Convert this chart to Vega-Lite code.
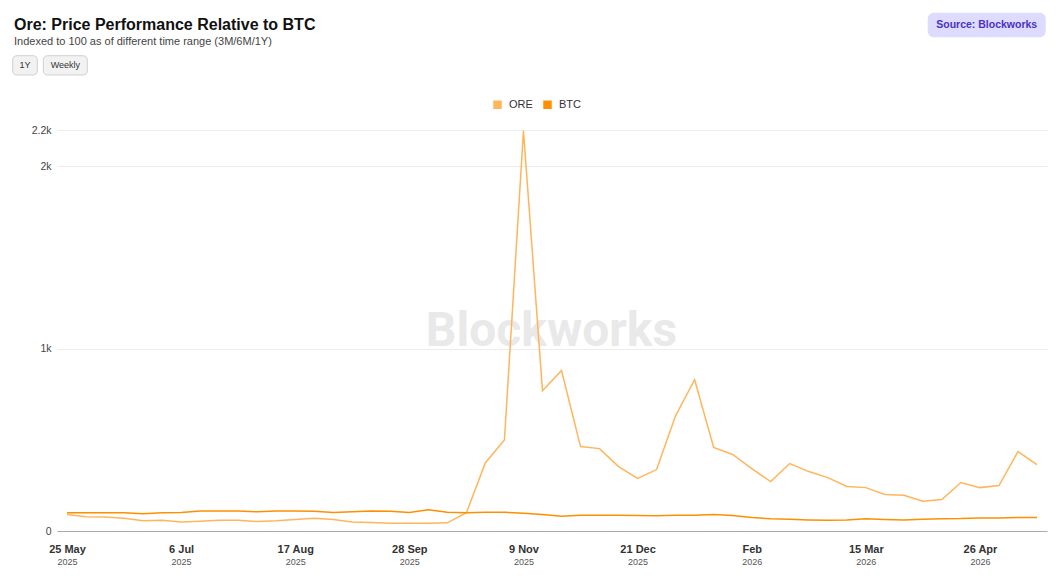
{
  "$schema": "https://vega.github.io/schema/vega-lite/v6.json",
  "width": 990,
  "height": 401,
  "autosize": {"type": "none"},
  "padding": {"left": 57, "top": 130, "right": 13, "bottom": 52},
  "background": "white",
  "config": {"font": "Liberation Sans", "view": {"stroke": null}},
  "title": {
    "text": "Ore: Price Performance Relative to BTC",
    "subtitle": "Indexed to 100 as of different time range (3M/6M/1Y)",
    "anchor": "start",
    "frame": "group",
    "dx": -43,
    "dy": 38,
    "fontSize": 16,
    "fontWeight": "bold",
    "color": "#111111",
    "subtitleFontSize": 11,
    "subtitleColor": "#444444",
    "subtitlePadding": 3,
    "font": "Liberation Sans",
    "subtitleFont": "Liberation Sans"
  },
  "data": {
    "values": [
      {"date": "2025-05-25", "series": "ORE", "value": 90},
      {"date": "2025-06-01", "series": "ORE", "value": 78},
      {"date": "2025-06-08", "series": "ORE", "value": 77},
      {"date": "2025-06-15", "series": "ORE", "value": 70},
      {"date": "2025-06-22", "series": "ORE", "value": 56},
      {"date": "2025-06-29", "series": "ORE", "value": 59},
      {"date": "2025-07-06", "series": "ORE", "value": 50},
      {"date": "2025-07-13", "series": "ORE", "value": 54},
      {"date": "2025-07-20", "series": "ORE", "value": 59},
      {"date": "2025-07-27", "series": "ORE", "value": 59},
      {"date": "2025-08-03", "series": "ORE", "value": 52},
      {"date": "2025-08-10", "series": "ORE", "value": 56},
      {"date": "2025-08-17", "series": "ORE", "value": 63},
      {"date": "2025-08-24", "series": "ORE", "value": 70},
      {"date": "2025-08-31", "series": "ORE", "value": 63},
      {"date": "2025-09-07", "series": "ORE", "value": 50},
      {"date": "2025-09-14", "series": "ORE", "value": 46},
      {"date": "2025-09-21", "series": "ORE", "value": 43},
      {"date": "2025-09-28", "series": "ORE", "value": 43},
      {"date": "2025-10-05", "series": "ORE", "value": 43},
      {"date": "2025-10-12", "series": "ORE", "value": 45},
      {"date": "2025-10-19", "series": "ORE", "value": 100},
      {"date": "2025-10-26", "series": "ORE", "value": 375},
      {"date": "2025-11-02", "series": "ORE", "value": 500},
      {"date": "2025-11-09", "series": "ORE", "value": 2195},
      {"date": "2025-11-16", "series": "ORE", "value": 770},
      {"date": "2025-11-23", "series": "ORE", "value": 880},
      {"date": "2025-11-30", "series": "ORE", "value": 463},
      {"date": "2025-12-07", "series": "ORE", "value": 452},
      {"date": "2025-12-14", "series": "ORE", "value": 353},
      {"date": "2025-12-21", "series": "ORE", "value": 288},
      {"date": "2025-12-28", "series": "ORE", "value": 337},
      {"date": "2026-01-04", "series": "ORE", "value": 633},
      {"date": "2026-01-11", "series": "ORE", "value": 830},
      {"date": "2026-01-18", "series": "ORE", "value": 458},
      {"date": "2026-01-25", "series": "ORE", "value": 420},
      {"date": "2026-02-01", "series": "ORE", "value": 342},
      {"date": "2026-02-08", "series": "ORE", "value": 271},
      {"date": "2026-02-15", "series": "ORE", "value": 370},
      {"date": "2026-02-22", "series": "ORE", "value": 326},
      {"date": "2026-03-01", "series": "ORE", "value": 293},
      {"date": "2026-03-08", "series": "ORE", "value": 244},
      {"date": "2026-03-15", "series": "ORE", "value": 238},
      {"date": "2026-03-22", "series": "ORE", "value": 200},
      {"date": "2026-03-29", "series": "ORE", "value": 196},
      {"date": "2026-04-05", "series": "ORE", "value": 163},
      {"date": "2026-04-12", "series": "ORE", "value": 173},
      {"date": "2026-04-19", "series": "ORE", "value": 266},
      {"date": "2026-04-26", "series": "ORE", "value": 238},
      {"date": "2026-05-03", "series": "ORE", "value": 249},
      {"date": "2026-05-10", "series": "ORE", "value": 436},
      {"date": "2026-05-17", "series": "ORE", "value": 364},
      {"date": "2025-05-25", "series": "BTC", "value": 100},
      {"date": "2025-06-01", "series": "BTC", "value": 100},
      {"date": "2025-06-08", "series": "BTC", "value": 100},
      {"date": "2025-06-15", "series": "BTC", "value": 100},
      {"date": "2025-06-22", "series": "BTC", "value": 94},
      {"date": "2025-06-29", "series": "BTC", "value": 100},
      {"date": "2025-07-06", "series": "BTC", "value": 101},
      {"date": "2025-07-13", "series": "BTC", "value": 110},
      {"date": "2025-07-20", "series": "BTC", "value": 110},
      {"date": "2025-07-27", "series": "BTC", "value": 110},
      {"date": "2025-08-03", "series": "BTC", "value": 105},
      {"date": "2025-08-10", "series": "BTC", "value": 110},
      {"date": "2025-08-17", "series": "BTC", "value": 110},
      {"date": "2025-08-24", "series": "BTC", "value": 108},
      {"date": "2025-08-31", "series": "BTC", "value": 101},
      {"date": "2025-09-07", "series": "BTC", "value": 105},
      {"date": "2025-09-14", "series": "BTC", "value": 110},
      {"date": "2025-09-21", "series": "BTC", "value": 108},
      {"date": "2025-09-28", "series": "BTC", "value": 101},
      {"date": "2025-10-05", "series": "BTC", "value": 116},
      {"date": "2025-10-12", "series": "BTC", "value": 103},
      {"date": "2025-10-19", "series": "BTC", "value": 100},
      {"date": "2025-10-26", "series": "BTC", "value": 103},
      {"date": "2025-11-02", "series": "BTC", "value": 103},
      {"date": "2025-11-09", "series": "BTC", "value": 97},
      {"date": "2025-11-16", "series": "BTC", "value": 90},
      {"date": "2025-11-23", "series": "BTC", "value": 81},
      {"date": "2025-11-30", "series": "BTC", "value": 87},
      {"date": "2025-12-07", "series": "BTC", "value": 87},
      {"date": "2025-12-14", "series": "BTC", "value": 87},
      {"date": "2025-12-21", "series": "BTC", "value": 85},
      {"date": "2025-12-28", "series": "BTC", "value": 84},
      {"date": "2026-01-04", "series": "BTC", "value": 87},
      {"date": "2026-01-11", "series": "BTC", "value": 87},
      {"date": "2026-01-18", "series": "BTC", "value": 90},
      {"date": "2026-01-25", "series": "BTC", "value": 85},
      {"date": "2026-02-01", "series": "BTC", "value": 74},
      {"date": "2026-02-08", "series": "BTC", "value": 67},
      {"date": "2026-02-15", "series": "BTC", "value": 64},
      {"date": "2026-02-22", "series": "BTC", "value": 61},
      {"date": "2026-03-01", "series": "BTC", "value": 59},
      {"date": "2026-03-08", "series": "BTC", "value": 61},
      {"date": "2026-03-15", "series": "BTC", "value": 67},
      {"date": "2026-03-22", "series": "BTC", "value": 63},
      {"date": "2026-03-29", "series": "BTC", "value": 61},
      {"date": "2026-04-05", "series": "BTC", "value": 65},
      {"date": "2026-04-12", "series": "BTC", "value": 67},
      {"date": "2026-04-19", "series": "BTC", "value": 68},
      {"date": "2026-04-26", "series": "BTC", "value": 72},
      {"date": "2026-05-03", "series": "BTC", "value": 72},
      {"date": "2026-05-10", "series": "BTC", "value": 74},
      {"date": "2026-05-17", "series": "BTC", "value": 74}
    ]
  },
  "layer": [
    {
      "data": {"values": [{"label": "Blockworks"}]},
      "mark": {"type": "text", "font": "Roboto", "fontSize": 48, "fontWeight": "bold", "color": "#e9e9e9", "align": "center", "baseline": "alphabetic"},
      "encoding": {
        "x": {"datum": 1763537701000, "type": "temporal",
          "scale": {"type": "utc", "domain": [1747813200000, 1779294000000], "nice": false},
          "axis": {"values": [1748131200000, 1751760000000, 1755388800000, 1759017600000, 1762646400000, 1766275200000, 1769904000000, 1773532800000, 1777161600000],
            "labelExpr": "utcFormat(datum.value, '%Y')", "title": null, "orient": "bottom", "grid": false, "ticks": false, "domain": false,
            "labelFont": "Liberation Sans", "labelFontSize": 9, "labelColor": "#555555", "labelPadding": 26, "labelFlush": false, "labelOverlap": false}},
        "y": {"datum": 1015, "type": "quantitative", "scale": {"domain": [0, 2200], "nice": false}, "axis": null},
        "text": {"field": "label"}
      }
    },
    {
      "mark": {"type": "line", "strokeWidth": 1.5, "interpolate": "linear"},
      "encoding": {
        "x": {"field": "date", "type": "temporal",
          "scale": {"type": "utc", "domain": [1747813200000, 1779294000000], "nice": false},
          "axis": {"values": [1748131200000, 1751760000000, 1755388800000, 1759017600000, 1762646400000, 1766275200000, 1769904000000, 1773532800000, 1777161600000],
            "labelExpr": "utcdate(datum.value) == 1 ? utcFormat(datum.value, '%b') : utcFormat(datum.value, '%-d %b')",
            "title": null, "orient": "bottom", "grid": false, "ticks": false, "domain": true, "domainColor": "#aaaaaa", "domainWidth": 1,
            "labelFont": "Liberation Sans", "labelFontSize": 11, "labelFontWeight": "bold", "labelColor": "#333333", "labelPadding": 12, "labelFlush": false, "labelOverlap": false}},
        "y": {"field": "value", "type": "quantitative",
          "scale": {"domain": [0, 2200], "nice": false},
          "axis": {"orient": "left", "values": [0, 1000, 2000, 2200], "labelExpr": "datum.value == 0 ? '0' : format(datum.value, '~s')", "title": null, "grid": true, "gridColor": "#ececec", "gridWidth": 1, "domain": false, "ticks": false,
            "labelFont": "Liberation Sans", "labelFontSize": 10.5, "labelColor": "#444444", "labelPadding": 6}},
        "color": {"field": "series", "type": "nominal",
          "scale": {"domain": ["ORE", "BTC"], "range": ["#FFB55A", "#FF8F00"]},
          "legend": {"orient": "none", "legendX": 435, "legendY": -31, "direction": "horizontal", "title": null,
            "symbolType": "square", "symbolSize": 72, "symbolStrokeWidth": 0,
            "labelFont": "Liberation Sans", "labelFontSize": 11, "labelColor": "#333333", "labelOffset": 6, "columnPadding": 9,
            "encode": {"symbols": {"update": {"fill": {"scale": "color", "field": "value"}, "opacity": {"value": 1}}}}}}
      }
    },
    {
      "data": {"values": [{"label": "1Y"}]},
      "mark": {"type": "rect", "fill": "#f2f2f2", "stroke": "#d0d0d0", "strokeWidth": 1, "cornerRadius": 4},
      "encoding": {
        "x": {"datum": 1746404514000, "type": "temporal", "scale": {"type": "utc", "domain": [1747813200000, 1779294000000], "nice": false}, "axis": null},
        "x2": {"datum": 1747186764000},
        "y": {"datum": 2607.6, "type": "quantitative", "scale": {"domain": [0, 2200], "nice": false}, "axis": null},
        "y2": {"datum": 2501.8}
      }
    },
    {
      "data": {"values": [{"label": "1Y"}]},
      "mark": {"type": "text", "fontSize": 9, "color": "#333333", "align": "center", "baseline": "middle", "font": "Liberation Sans"},
      "encoding": {
        "x": {"datum": 1746795639000, "type": "temporal", "scale": {"type": "utc", "domain": [1747813200000, 1779294000000], "nice": false}, "axis": null},
        "y": {"datum": 2554.4, "type": "quantitative", "scale": {"domain": [0, 2200], "nice": false}, "axis": null},
        "text": {"field": "label"}
      }
    },
    {
      "data": {"values": [{"label": "Weekly"}]},
      "mark": {"type": "rect", "fill": "#f2f2f2", "stroke": "#d0d0d0", "strokeWidth": 1, "cornerRadius": 4},
      "encoding": {
        "x": {"datum": 1747377557000, "type": "temporal", "scale": {"type": "utc", "domain": [1747813200000, 1779294000000], "nice": false}, "axis": null},
        "x2": {"datum": 1748776703000},
        "y": {"datum": 2607.6, "type": "quantitative", "scale": {"domain": [0, 2200], "nice": false}, "axis": null},
        "y2": {"datum": 2501.8}
      }
    },
    {
      "data": {"values": [{"label": "Weekly"}]},
      "mark": {"type": "text", "fontSize": 9, "color": "#333333", "align": "center", "baseline": "middle", "font": "Liberation Sans"},
      "encoding": {
        "x": {"datum": 1748077130000, "type": "temporal", "scale": {"type": "utc", "domain": [1747813200000, 1779294000000], "nice": false}, "axis": null},
        "y": {"datum": 2554.4, "type": "quantitative", "scale": {"domain": [0, 2200], "nice": false}, "axis": null},
        "text": {"field": "label"}
      }
    },
    {
      "data": {"values": [{"label": "Source: Blockworks"}]},
      "mark": {"type": "rect", "fill": "#dddbff", "cornerRadius": 6},
      "encoding": {
        "x": {"datum": 1775500405000, "type": "temporal", "scale": {"type": "utc", "domain": [1747813200000, 1779294000000], "nice": false}, "axis": null},
        "x2": {"datum": 1779252662000},
        "y": {"datum": 2843.5, "type": "quantitative", "scale": {"domain": [0, 2200], "nice": false}, "axis": null},
        "y2": {"datum": 2708.6}
      }
    },
    {
      "data": {"values": [{"label": "Source: Blockworks"}]},
      "mark": {"type": "text", "fontSize": 10.5, "fontWeight": "bold", "color": "#4b32c3", "align": "center", "baseline": "middle", "font": "Liberation Sans"},
      "encoding": {
        "x": {"datum": 1777376533000, "type": "temporal", "scale": {"type": "utc", "domain": [1747813200000, 1779294000000], "nice": false}, "axis": null},
        "y": {"datum": 2776.1, "type": "quantitative", "scale": {"domain": [0, 2200], "nice": false}, "axis": null},
        "text": {"field": "label"}
      }
    }
  ],
  "resolve": {"axis": {"x": "independent", "y": "independent"}}
}
